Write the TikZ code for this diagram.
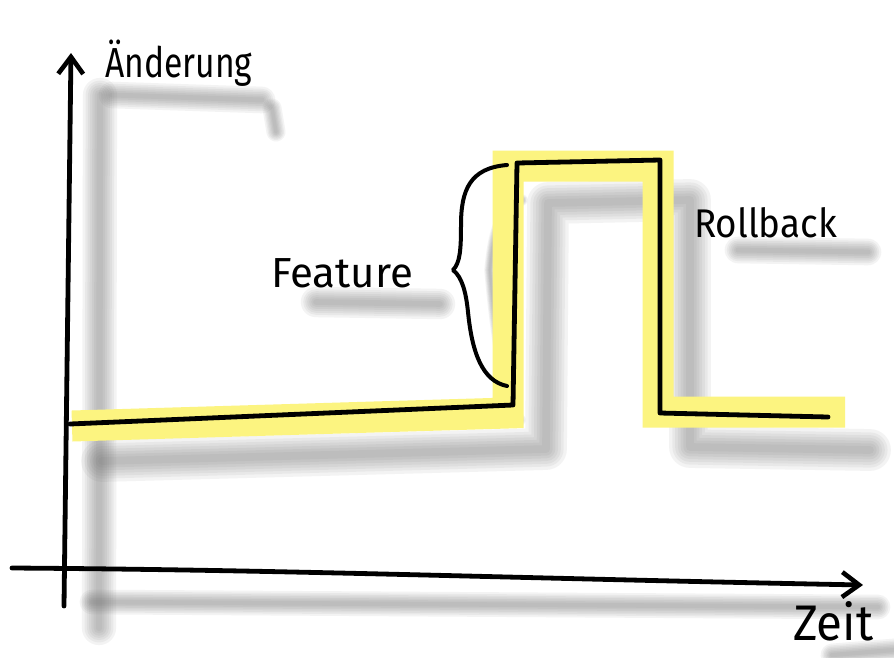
\documentclass[tikz,border=0pt]{standalone}
\usepackage{fontspec}
\setmainfont{Fira Sans}
\usetikzlibrary{arrows.meta}
\definecolor{marker}{RGB}{252,244,128}
\definecolor{shade}{RGB}{105,105,105}
\newcommand{\softshadow}[2]{%
  \foreach \w in {1.9,1.6,1.35,1.1,0.85,0.6,0.35}{%
    \draw[draw=shade,draw opacity=0.075,line width=\w*#1,line cap=round,line join=round] #2;}}
\tikzset{
  ink/.style={draw=black,line width=4.8pt,line cap=round,line join=round},
  hl/.style={draw=marker,line width=31pt,line cap=butt,line join=miter},
  handtext/.style={inner sep=0pt,anchor=base west},
  barb/.style={-{Straight Barb[length=17pt,width=25pt,line width=4.6pt]}},
}
\begin{document}
\begin{tikzpicture}[x=1pt,y=-1pt]
\fill[white] (0,0) rectangle (894,657);
\useasboundingbox (0,0) rectangle (894,657);

% coordinates of the signal
\coordinate (s0) at (70,424);
\coordinate (s1) at (513,405);
\coordinate (s2) at (517,163);
\coordinate (s3) at (660,160);
\coordinate (s4) at (660,413);
\coordinate (s5) at (828,417);

% axis coordinates
\coordinate (yb) at (64,606);
\coordinate (yt) at (71,53);
\coordinate (xl) at (12,568);
\coordinate (xr) at (863,585);

% text anchors
\coordinate (tA) at (105,77);
\coordinate (tF) at (271,287);
\coordinate (tR) at (694,237);
\coordinate (tZ) at (793,640);

% ---------- shadows ----------
\softshadow{18pt}{(100,95) -- (99,628)}
\softshadow{13pt}{(92,602) -- (878,607)}
\softshadow{22pt}{(102,461) -- (546,449) -- (548,203) -- (690,200) -- (690,447) -- (870,450)}
\softshadow{6pt}{(522,200) .. controls (497,210) and (493,240) .. (490,270) .. controls (495,330) and (505,400) .. (520,420)}
% text shadows
\softshadow{14pt}{(112,95) -- (262,100)}
\softshadow{10pt}{(272,108) -- (276,132)}
\softshadow{16pt}{(316,302) -- (440,304)}
\softshadow{14pt}{(738,250) -- (868,252)}
\softshadow{12pt}{(832,655) -- (894,650)}

% ---------- yellow marker ----------
\draw[hl] (72,426) -- (508,413) -- (508,166) -- (658,166) -- (658,412) -- (845,412);

% ---------- axes ----------
\draw[ink,barb] (yb) -- (yt);
\draw[ink,barb] (xl) .. controls (300,570) and (500,578) .. (xr);

% ---------- signal ----------
\draw[ink] (s0) -- (s1) -- (s2) -- (s3) -- (s4) -- (s5);

% ---------- brace ----------
\draw[ink,line width=4pt] (507,165) .. controls (470,168) and (461,190) .. (461,225)
  .. controls (461,250) and (460,263) .. (453,270)
  .. controls (462,277) and (466,292) .. (468,312)
  .. controls (472,352) and (482,381) .. (507,386);

% ---------- labels ----------
\node[handtext,font=\fontsize{42}{46}\selectfont,xscale=0.8] (lblA) at (tA) {Änderung};
\node[handtext,font=\fontsize{42}{46}\selectfont] (lblF) at (tF) {Feature};
\node[handtext,font=\fontsize{40}{44}\selectfont,xscale=0.92] (lblR) at (tR) {Rollback};
\node[handtext,font=\fontsize{50}{54}\selectfont,xscale=0.95] (lblZ) at (tZ) {Zeit};
\end{tikzpicture}
\end{document}
